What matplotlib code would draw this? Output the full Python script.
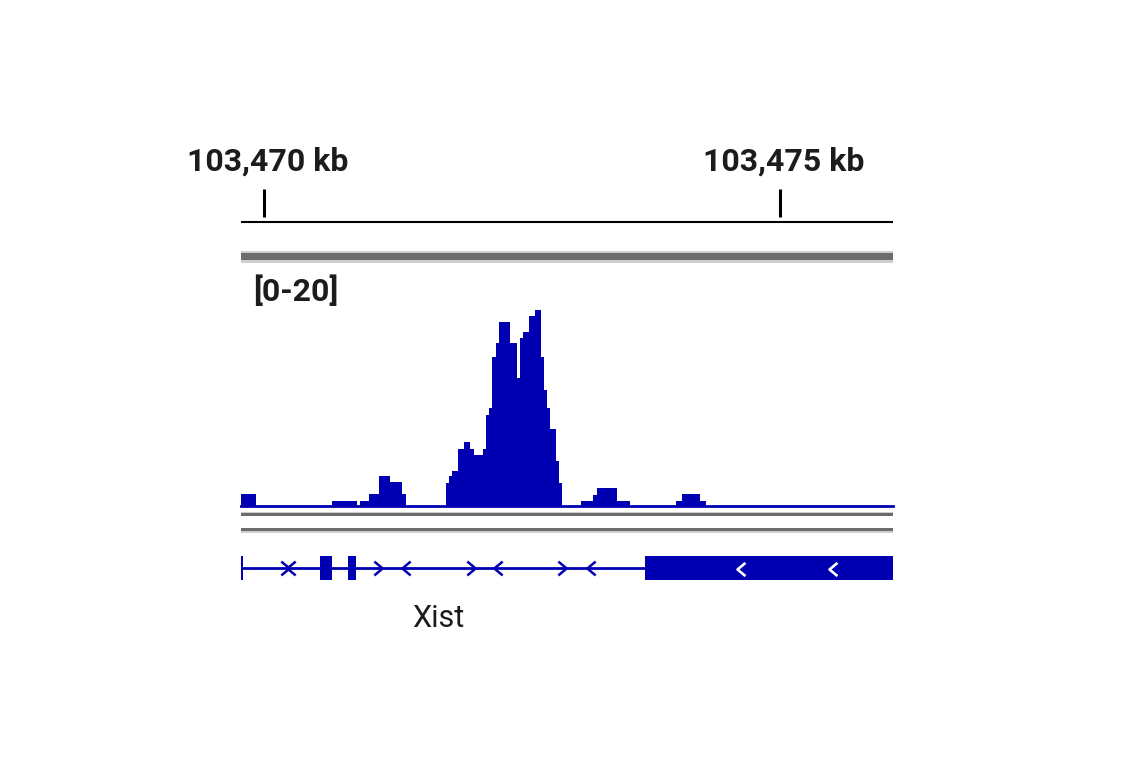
import matplotlib
matplotlib.use("Agg")
import matplotlib.pyplot as plt
from matplotlib.path import Path
from matplotlib.patches import Rectangle

# view window (kb)
view_start = 103469.777
view_end = 103476.095
ruler_ticks = [103470, 103475]
ruler_labels = ['103,470 kb', '103,475 kb']
data_range = (0, 20)
range_label = '[0-20]'

# coverage track: bin edges (kb) and values
bin_edges = [103469.777, 103469.920, 103470.662, 103470.898, 103470.930, 103471.017,
             103471.114, 103471.221, 103471.337, 103471.373, 103471.764, 103471.793,
             103471.822, 103471.880, 103471.938, 103471.996, 103472.032, 103472.122,
             103472.151, 103472.180, 103472.209, 103472.245, 103472.274, 103472.387,
             103472.449, 103472.478, 103472.510, 103472.568, 103472.626, 103472.684,
             103472.716, 103472.745, 103472.774, 103472.832, 103472.859, 103472.891,
             103473.072, 103473.191, 103473.224, 103473.423, 103473.547, 103473.992,
             103474.050, 103474.225, 103474.283, 103476.095]
coverage = [1.0, 0, 0.45, 0, 0.45, 1.0, 2.5, 2.0, 1.0, 0,
            1.95, 2.5, 2.95, 4.75, 5.3, 4.75, 4.25, 4.75, 7.6, 8.2,
            12.4, 13.6, 15.3, 13.6, 10.7, 14.0, 14.5, 15.8, 16.3, 12.4,
            9.7, 8.2, 6.4, 3.75, 1.95, 0, 0.45, 0.9, 1.5, 0.45,
            0, 0.45, 1.0, 0.45, 0]

# gene model (Xist)
gene_name = 'Xist'
gene_start = 103469.777
exon_starts = [103469.777, 103470.543, 103470.811, 103473.692]
exon_ends = [103469.797, 103470.662, 103470.889, 103476.300]
right_arrows = [103470.208, 103471.100, 103472.006, 103472.892]
left_arrows = [103470.257, 103471.376, 103472.267, 103473.169]
left_arrows_in_exon = [103474.622, 103475.509]

BLUE = '#0000b2'
TXT = '#1c1c1c'
DARK = '#6c6c6c'
LIGHT = '#cfcfcf'
FONT = ['Roboto', 'DejaVu Sans']

W, H = 1141, 768
fig = plt.figure(figsize=(W / 100, H / 100), dpi=100)


def px_axes(x0, y0, x1, y1):
    return fig.add_axes([x0 / W, 1 - y1 / H, (x1 - x0) / W, (y1 - y0) / H])


# background separators
bg = px_axes(0, 0, W, H)
bg.set_xlim(0, W)
bg.set_ylim(H, 0)
bg.axis('off')
for y, h, c in [(250.7, 2.2, LIGHT), (252.7, 7.5, DARK), (260.2, 2.6, LIGHT),
                (511.7, 1.8, LIGHT), (513.3, 2.8, DARK),
                (528.2, 2.8, DARK), (531.0, 2.0, LIGHT)]:
    bg.add_patch(Rectangle((241, y), 652, h, color=c, lw=0))

# ruler + gene track (x in kb, y in pixels)
ax = px_axes(241, 0, 893, H)
ax.set_xlim(view_start, view_end)
ax.set_ylim(H, 0)
ax.axis('off')
ax.hlines(221.7, view_start, view_end, color='black', lw=1.5)
ax.vlines(ruler_ticks, 189, 216.5, color='black', lw=2.2)
for t, lab in zip(ruler_ticks, ruler_labels):
    ax.text(t + 0.04, 171, lab, ha='center', va='baseline', fontsize=23,
            fontweight='bold', color=TXT, family=FONT)

ax.hlines(568, gene_start, exon_starts[-1], color=BLUE, lw=2.0)
ax.broken_barh([(s, e - s) for s, e in zip(exon_starts, exon_ends)], (556, 24),
               color=BLUE, lw=0)
right_m = Path([(-0.6, 1), (0.6, 0), (-0.6, -1)])
left_m = Path([(0.6, 1), (-0.6, 0), (0.6, -1)])
ax.plot(right_arrows, [568] * len(right_arrows), ls='none', marker=right_m,
        ms=10, mfc='none', mec=BLUE, mew=1.8)
ax.plot(left_arrows, [568] * len(left_arrows), ls='none', marker=left_m,
        ms=10, mfc='none', mec=BLUE, mew=1.8)
ax.plot(left_arrows_in_exon, [569] * len(left_arrows_in_exon), ls='none',
        marker=left_m, ms=9.5, mfc='none', mec='white', mew=1.9)
fig.text(438.5 / W, 1 - 627 / H, gene_name, ha='center', va='baseline',
         fontsize=22, color=TXT, family=FONT)

# coverage track
sig = px_axes(241, 266, 893, 506)
sig.set_xlim(view_start, view_end)
sig.set_ylim(*data_range)
sig.axis('off')
sig.stairs(coverage, bin_edges, fill=True, color=BLUE, lw=0)
sig.axhline(0, color=BLUE, lw=2, clip_on=False)
fig.text(253 / W, 1 - 301 / H, range_label, ha='left', va='baseline',
         fontsize=23, fontweight='bold', color=TXT, family=FONT)

fig.savefig('out.png', dpi=100, facecolor='white')
